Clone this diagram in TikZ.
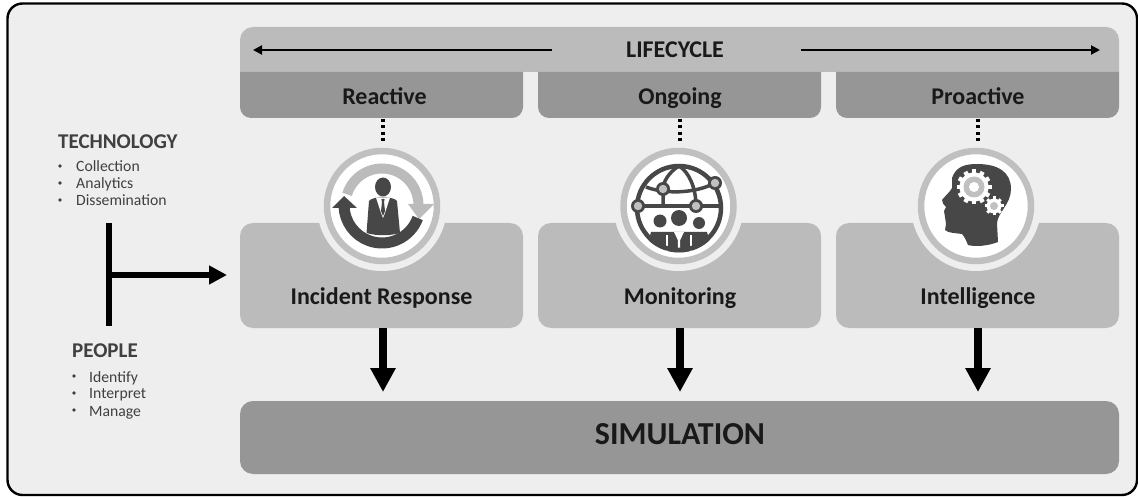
\documentclass[tikz,border=0pt]{standalone}
\usepackage{fontspec}
\setmainfont{Carlito}
\usetikzlibrary{arrows.meta}
\definecolor{bgc}{HTML}{EEEEEE}
\definecolor{lightb}{HTML}{BBBBBB}
\definecolor{darkb}{HTML}{969696}
\definecolor{ring}{HTML}{C0C0C0}
\definecolor{icon}{HTML}{474747}
\definecolor{txt}{HTML}{404040}
\tikzset{
  hdr/.style={font=\bfseries\fontsize{24}{24}\selectfont,text=black!90,inner sep=0pt,anchor=base},
  box/.style={fill=lightb,rounded corners=13pt},
  thick arrow/.style={line width=8pt,-{Triangle[length=24pt,width=24pt]}},
  thin arrow/.style={line width=2pt,-{Triangle[length=9pt,width=9pt]}},
  dots/.style={line width=3.2pt,dash pattern=on 3pt off 3.3pt},
  ringc/.style={circle,draw=ring,line width=6.5pt,fill=white,minimum size=110pt,inner sep=0pt},
  sidehead/.style={font=\bfseries\fontsize{21}{21}\selectfont,text=txt,inner sep=0pt,anchor=base west},
  sideitem/.style={font=\fontsize{15.7}{16}\selectfont,text=txt,inner sep=0pt,anchor=base west},
  bul/.style={circle,fill=txt,inner sep=0pt,minimum size=3.8pt},
}
\begin{document}
\begin{tikzpicture}[x=1pt,y=-1pt]
\useasboundingbox (0,0) rectangle (1138,497);
\draw[fill=bgc,draw=black,line width=2.4pt,rounded corners=15pt] (7.5,3.5) rectangle (1137,495);
% lifecycle band
\fill[lightb] (240,72) [rounded corners=13pt] -- (240,27) -- (1119,27) [sharp corners] -- (1119,72) -- cycle;
% headers and boxes
\foreach \n/\a/\b/\t/\c in {r/240/523/Reactive/384.5,o/538/821/Ongoing/680,p/836/1119/Proactive/978}{
  \fill[darkb] (\a,72) [rounded corners=11pt] -- (\a,118) -- (\b,118) [sharp corners] -- (\b,72) -- cycle;
  \node[hdr] (h\n) at (\c,105) {\t};
  \fill[box] (\a,223) rectangle (\b,328);
}
\coordinate (hbr) at (383,119); \coordinate (hbo) at (680,119); \coordinate (hbp) at (978,119);
\node[hdr] (life) at (675,58) {LIFECYCLE};
\coordinate (lifeL) at (552,50);
\coordinate (lifeR) at (801,50);
\coordinate (endL) at (253,50);
\coordinate (endR) at (1100,50);
\draw[thin arrow] (lifeL) -- (endL);
\draw[thin arrow] (lifeR) -- (endR);
% rings
\foreach \x in {382,678.5,976}{\fill[bgc] (\x,206) circle (65);}
\node[ringc] (c1) at (382,206) {};
\node[ringc] (c2) at (678.5,206) {};
\node[ringc] (c3) at (976,206) {};
% dotted links
\coordinate (d1) at (383,142); \coordinate (d2) at (680,142); \coordinate (d3) at (978,142);
\draw[dots] (hbr) -- (d1);
\draw[dots] (hbo) -- (d2);
\draw[dots] (hbp) -- (d3);
% icon 1 (origin at 382,205; angles run clockwise because y points down)
\begin{scope}[shift={(382,205)}]
  \draw[lightb,line width=10pt] (197:36.5) arc (197:360:36.5);
  \fill[lightb] (26,-1) -- (52,-1) -- (37,14) -- cycle;
  \draw[icon,line width=11pt] (20:38) arc (20:178:38);
  \fill[icon] (-50,3) -- (-25,3) -- (-38,-9) -- cycle;
  \fill[icon] (1,-18) ellipse (8 and 9.5);
  \fill[icon] (-15.5,28) -- (-13,-4) .. controls (-12,-6) and (-7,-7) .. (-3,-8) -- (4,-8) .. controls (9,-7) and (14,-6) .. (15,-4) -- (18,28) .. controls (7,31) and (-5,31) .. (-15.5,28) -- cycle;
  \fill[white] (-6,-7.5) -- (1,-7.5) -- (8,-7.5) -- (3,8) -- (1,13) -- (-1,8) -- cycle;
  \fill[icon] (-0.6,-6) -- (2.6,-6) -- (2,-3) -- (3,6) -- (1,11) -- (-1,6) -- (0,-3) -- cycle;
\end{scope}
% icon 2
\begin{scope}[shift={(679,208)}]
  \begin{scope}
    \clip (0,0) circle (44.5);
    \fill[icon] (-28,24) -- (28,24) -- (34,46) -- (-34,46) -- cycle;
    \draw[white,line width=1.3pt] (-12,27) -- (-12,46) (12,27) -- (12,46);
    \fill[white] (-5,24) -- (5,24) -- (1.2,32) -- (1.2,44) -- (-1.2,44) -- (-1.2,32) -- cycle;
  \end{scope}
  \draw[icon,line width=4.5pt] (0,0) circle (42);
  \draw[icon,line width=3.5pt] (-41,-2) -- (41,-2);
  \draw[icon,line width=3.5pt] (-33,-21) .. controls (-15,-14) and (15,-14) .. (36,-25);
  \draw[icon,line width=3.5pt] (0,-42) .. controls (-10,-36) and (-16,-26) .. (-16,-19) -- (-16,-2);
  \draw[icon,line width=3.5pt] (0,-42) .. controls (10,-36) and (17,-20) .. (17,-2);
  \foreach \x/\y in {-41/-2,-16/-19,17/-2,36/-25}{
    \fill[icon] (\x,\y) circle (7);
    \fill[ring] (\x,\y) circle (4.2);
  }
  \fill[icon] (-19,13) circle (6.5);
  \fill[icon] (0,10) circle (8);
  \fill[icon] (20,15) circle (6);
\end{scope}
% icon 3
\begin{scope}
  \fill[icon] (952,178) .. controls (956,166) and (966,164) .. (977,164) .. controls (998,164) and (1011,172) .. (1011,189) .. controls (1011,204) and (998,212) .. (997,223) -- (998,242) .. controls (988,246) and (975,247) .. (968,245) .. controls (966,240) and (964,236) .. (962,234) .. controls (955,233) and (948,233) .. (945,230) -- (946,224) -- (945,217) -- (944,211) -- (946,207) .. controls (944,205) and (942,203) .. (942,200) .. controls (945,196) and (950,192) .. (952,188) -- cycle;
  \foreach \a in {0,30,...,330}{\fill[white,rotate around={\a:(974,187)}] (971.8,169.5) rectangle (976.2,180);}
  \fill[white] (974,187) circle (14.5);
  \fill[ring] (974,187) circle (10.5);
  \fill[white] (974,187) circle (5);
  \foreach \a in {0,45,...,315}{\fill[white,rotate around={\a:(994,206)}] (992.5,196.5) rectangle (995.5,202);}
  \fill[white] (994,206) circle (7.5);
  \fill[ring] (994,206) circle (4);
\end{scope}
% box labels
\node[hdr] (l1) at (381.5,304) {Incident Response};
\node[hdr] (l2) at (680,304) {Monitoring};
\node[hdr] (l3) at (978,304) {Intelligence};
% simulation
\node[fill=darkb,rounded corners=13pt,minimum width=879pt,minimum height=73pt,inner sep=0pt] (sim) at (679.5,437.5) {};
\node[inner sep=0pt,anchor=base,font=\bfseries\fontsize{32}{32}\selectfont,text=black!90] (simt) at (680,444) {SIMULATION};
\coordinate (b1) at (383,328); \coordinate (b2) at (680,328); \coordinate (b3) at (978,328);
\coordinate (s1) at (383,392); \coordinate (s2) at (680,392); \coordinate (s3) at (978,392);
\draw[thick arrow] (b1) -- (s1);
\draw[thick arrow] (b2) -- (s2);
\draw[thick arrow] (b3) -- (s3);
% left
\coordinate (tT) at (109,223); \coordinate (tB) at (109,326); \coordinate (tM) at (109,275); \coordinate (tE) at (227,275);
\draw[line width=6pt] (tT) -- (tB);
\draw[line width=6.5pt,-{Triangle[length=18pt,width=18pt]}] (tM) -- (tE);
\node[sidehead] (tech) at (58,149) {TECHNOLOGY};
\node[sideitem] (t1) at (76,172) {Collection};
\node[sideitem] (t2) at (76,189) {Analytics};
\node[sideitem] (t3) at (76,206) {Dissemination};
\foreach \y/\n in {166/a,183/b,200/c}{\node[bul] (bt\n) at (60,\y) {};}
\node[sidehead] (peo) at (72,357) {PEOPLE};
\node[sideitem] (p1) at (89,382) {Identify};
\node[sideitem] (p2) at (89,398) {Interpret};
\node[sideitem] (p3) at (89,416) {Manage};
\foreach \y/\n in {376/a,393/b,410/c}{\node[bul] (bp\n) at (74,\y) {};}
\end{tikzpicture}
\end{document}
